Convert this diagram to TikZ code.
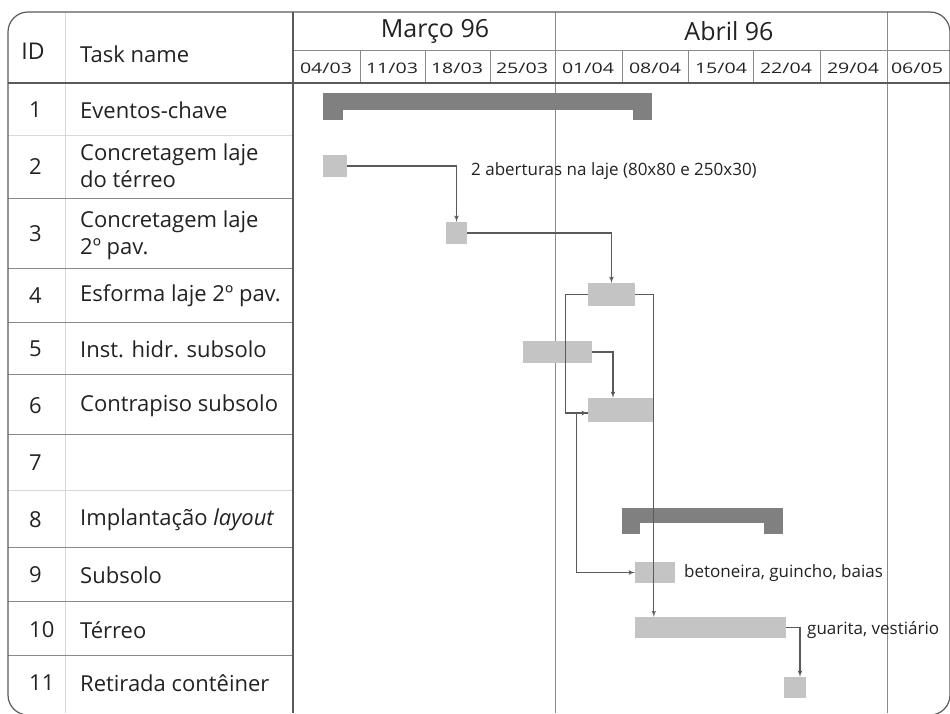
\documentclass[tikz,border=0pt]{standalone}
\usepackage{fontspec}
\setmainfont{Open Sans}
\usetikzlibrary{arrows}
\definecolor{barlight}{HTML}{C4C4C4}
\definecolor{bardark}{HTML}{808080}
\definecolor{linedark}{HTML}{5A5A5A}
\definecolor{linemid}{HTML}{8A8A8A}
\definecolor{linelight}{HTML}{D8D8D8}
\definecolor{txt}{HTML}{222222}
\newcommand{\wk}[1]{\scalebox{1.35}[1]{#1}}

\begin{document}
\begin{tikzpicture}[x=1pt, y=-1pt, >=latex',
    task/.style={fill=barlight, inner sep=0pt, minimum height=22pt},
    summ/.style={fill=bardark, inner sep=0pt},
    link/.style={->, draw=linedark, line width=1.1pt},
    rowtxt/.style={anchor=west, text=txt, font=\fontsize{22}{27}\selectfont, align=left, inner sep=0pt},
    idtxt/.style={anchor=west, text=txt, font=\fontsize{22}{27}\selectfont, inner sep=0pt},
    month/.style={text=txt, font=\fontsize{25}{28}\selectfont, inner sep=0pt},
    week/.style={text=txt, font=\fontsize{14.5}{16}\selectfont, inner sep=0pt},
    note/.style={anchor=west, text=txt, font=\fontsize{17}{20}\selectfont, inner sep=0pt}]
      \useasboundingbox (0,0) rectangle (950,713);

      % grid of the table
      \draw [linelight, line width=1pt] (65,12) -- (65,713);
      \foreach \y in {135,490} \draw [linelight, line width=1pt] (8,\y) -- (293,\y);
      \foreach \y in {198,268,322,374,434,547,601,655} \draw [linemid, line width=1pt] (8,\y) -- (293,\y);
      \draw [linemid, line width=1pt] (293,50) -- (950,50);
      \foreach \x in {360,425,490,622,688,753,820} \draw [linemid, line width=1pt] (\x,50) -- (\x,83);
      \draw [linemid, line width=1pt] (555,12) -- (555,713);
      \draw [linemid, line width=1pt] (887,12) -- (887,713);
      \draw [linedark, line width=1.2pt] (8,83) -- (950,83);
      \draw [linedark, line width=1.2pt] (293,12) -- (293,713);
      \draw [linedark, line width=1.2pt, rounded corners=20pt] (8,12) rectangle (950,715);

      % header
      \node at (33,51) [text=txt, font=\fontsize{23}{26}\selectfont, inner sep=0pt, name=hid] {ID};
      \node at (80,54) [rowtxt, name=hname] {Task name};
      \node at (435,31) [month, name=mar] {Março 96};
      \node at (729,31) [month, name=abr] {Abril 96};
      \foreach \x/\a/\b [count=\i] in {326/04/03, 392/11/03, 457/18/03, 522/25/03, 588/01/04,
          655/08/04, 721/15/04, 786/22/04, 853/29/04, 917/06/05}
        \node at (\x,68) [week, name=w\i] {\wk{\a/\b}};

      % rows
      \node at (29,110) [idtxt, name=id1] {1};
      \node at (80,110) [rowtxt, name=n1] {Eventos-chave};
      \node at (29,167) [idtxt, name=id2] {2};
      \node at (80,166) [rowtxt, name=n2] {Concretagem laje\\do térreo};
      \node at (29,234) [idtxt, name=id3] {3};
      \node at (80,235) [rowtxt, name=n3] {Concretagem laje\\2º pav.};
      \node at (29,296) [idtxt, name=id4] {4};
      \node at (80,296) [rowtxt, name=n4] {Esforma laje 2º pav.};
      \node at (29,349) [idtxt, name=id5] {5};
      \node at (80,349) [rowtxt, name=n5] {Inst. hidr. subsolo};
      \node at (29,406) [idtxt, name=id6] {6};
      \node at (80,406) [rowtxt, name=n6] {Contrapiso subsolo};
      \node at (29,463) [idtxt, name=id7] {7};
      \node at (29,520) [idtxt, name=id8] {8};
      \node at (80,520) [rowtxt, name=n8] {Implantação \textit{layout}};
      \node at (29,575) [idtxt, name=id9] {9};
      \node at (80,575) [rowtxt, name=n9] {Subsolo};
      \node at (29,630) [idtxt, name=id10] {10};
      \node at (80,630) [rowtxt, name=n10] {Térreo};
      \node at (29,683) [idtxt, name=id11] {11};
      \node at (80,683) [rowtxt, name=n11] {Retirada contêiner};

      % bars
      \node at (487.5,101.5) [summ, minimum width=329pt, minimum height=17pt, name=s1] {};
      \fill [bardark] (s1.south west) rectangle ++(20,10);
      \fill [bardark] (s1.south east) rectangle ++(-19,10);
      \node at (702.5,515.5) [summ, minimum width=161pt, minimum height=15pt, name=s8] {};
      \fill [bardark] (s8.south west) rectangle ++(18,11);
      \fill [bardark] (s8.south east) rectangle ++(-19,11);

      \node at (335,166) [task, minimum width=24pt, name=t2] {};
      \node at (456.5,233) [task, minimum width=21pt, name=t3] {};
      \node at (611.5,294.5) [task, minimum width=47pt, minimum height=23pt, name=t4] {};
      \node at (557.5,352) [task, minimum width=69pt, name=t5] {};
      \node at (620.5,410) [task, minimum width=65pt, minimum height=24pt, name=t6] {};
      \node at (655,572.5) [task, minimum width=40pt, minimum height=21pt, name=t9] {};
      \node at (710.5,627.5) [task, minimum width=151pt, minimum height=21pt, name=t10] {};
      \node at (795,687.5) [task, minimum width=22pt, minimum height=21pt, name=t11] {};

      \node at (471,171) [note, name=c2] {2 aberturas na laje (80x80 e 250x30)};
      \node at (684,573) [note, name=c9] {betoneira, guincho, baias};
      \node at (807,630) [note, name=c10] {guarita, vestiário};

      % links
      \draw [link] (t2.east) -| (t3.north);
      \draw [link] (t3.east) -| (t4.north);
      \draw [link] (t4.west) -- ++(-22,0) |- ([yshift=-3pt]t6.west);
      \draw [link] (t4.east) -| ([xshift=19pt]t10.north west);
      \draw [link] (t5.east) -| ([xshift=-7.5pt]t6.north);
      \draw [link] ([yshift=-3pt]t6.west) -- ++(-11,0) |- (t9.west);
      \draw [link] (t10.east) -| ([xshift=5pt]t11.north);
\end{tikzpicture}
\end{document}
